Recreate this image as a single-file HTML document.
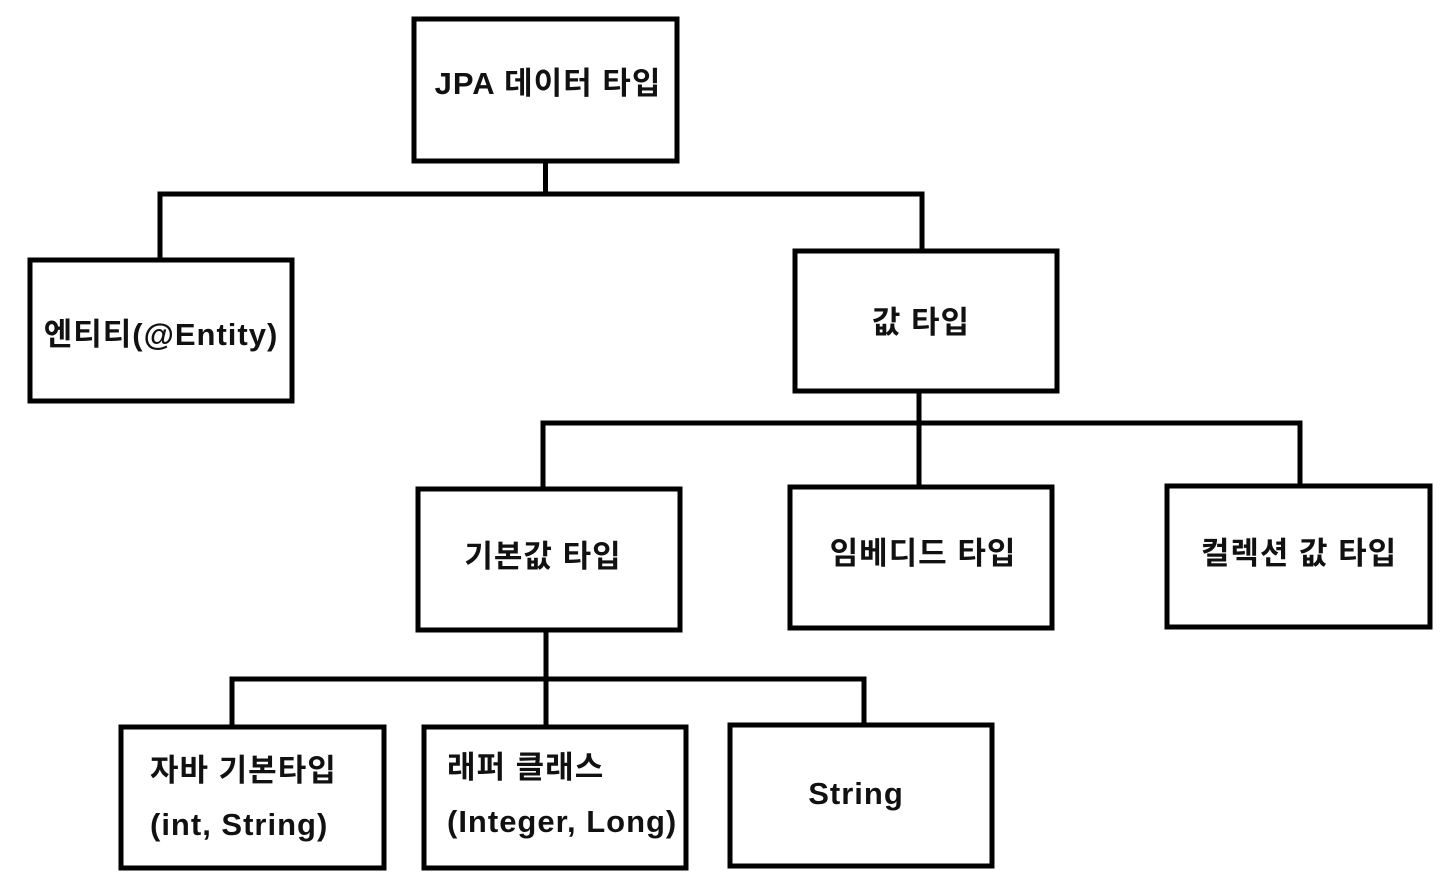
<!DOCTYPE html>
<html><head><meta charset="utf-8"><style>
html,body{margin:0;padding:0;background:#fff;}
svg{display:block;}
text{font-family:"Liberation Sans","Noto Sans CJK KR",sans-serif;font-size:31px;font-weight:bold;fill:#111;letter-spacing:1px;}
</style></head><body>
<svg width="1440" height="892" viewBox="0 0 1440 892" xmlns="http://www.w3.org/2000/svg">
<g fill="none" stroke="#000" stroke-width="5">
<rect x="414" y="19" width="263" height="142"/>
<rect x="30" y="260" width="262" height="141"/>
<rect x="795" y="251" width="262" height="140"/>
<rect x="418" y="489" width="262" height="141"/>
<rect x="790" y="487" width="262" height="141"/>
<rect x="1167" y="486" width="263" height="141"/>
<rect x="121" y="727" width="263" height="141"/>
<rect x="424" y="727" width="262" height="141"/>
<rect x="730" y="725" width="262" height="141"/>
<path d="M545.5 161V194M160 260V194H922V251"/>
<path d="M919 391V423M543 489V423H1300V486M919 423V487"/>
<path d="M546 630V679M232 727V679H864V725M546 679V727"/>
</g>
<text x="548" y="94" text-anchor="middle">JPA 데이터 타입</text>
<text x="161" y="345" text-anchor="middle">엔티티(@Entity)</text>
<text x="921" y="333" text-anchor="middle">값 타입</text>
<text x="543" y="567" text-anchor="middle">기본값 타입</text>
<text x="923" y="564" text-anchor="middle">임베디드 타입</text>
<text x="1299" y="564" text-anchor="middle">컬렉션 값 타입</text>
<text x="150" y="781">자바 기본타입</text>
<text x="150" y="835">(int, String)</text>
<text x="447" y="778">래퍼 클래스</text>
<text x="447" y="832">(Integer, Long)</text>
<text x="856" y="804" text-anchor="middle">String</text>
</svg>
</body></html>
